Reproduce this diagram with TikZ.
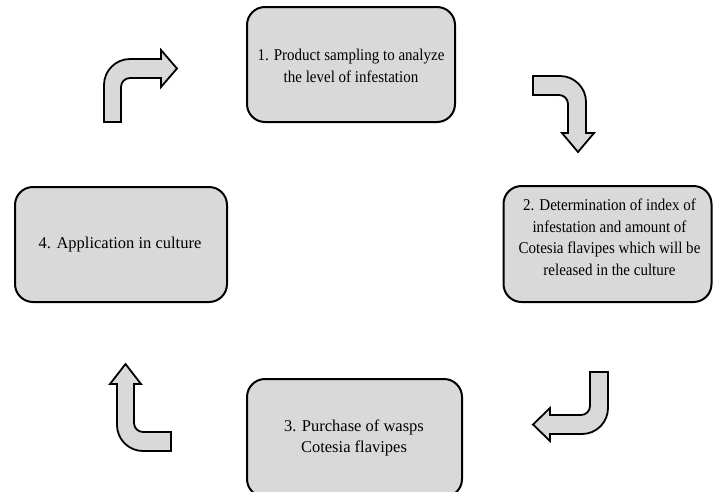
\documentclass[tikz,border=0pt]{standalone}
\usepackage{fontspec}
\setmainfont{Liberation Serif}
\newfontfamily\condfont[FakeStretch=0.91]{Liberation Serif}
\definecolor{boxgray}{HTML}{D9D9D9}
\tikzset{
  stepbox/.style={draw=black, fill=boxgray, line width=2pt, rounded corners=18pt, inner sep=0pt},
  steptext/.style={align=center, inner sep=0pt, font=\fontsize{16.5}{21.5}\selectfont},
  bentarrow/.style={draw=black, fill=boxgray, line width=1.8pt, line join=miter}
}
\begin{document}
\begin{tikzpicture}[x=1pt,y=-1pt]
\useasboundingbox (0,0) rectangle (714,491);
\clip (0,0) rectangle (714,491);
% boxes
\node[stepbox, minimum width=208pt, minimum height=115pt] (b1) at (351,64.5) {};
\node[stepbox, minimum width=208pt, minimum height=116pt] (b2) at (607.5,244) {};
\node[stepbox, minimum width=212pt, minimum height=115pt] (b4) at (121,244.5) {};
\node[stepbox, minimum width=215pt, minimum height=118pt] (b3) at (354.5,438) {};
% texts
\node[steptext] (t1) at (351,66) {\condfont 1. Product sampling to analyze\\\condfont the level of infestation};
\node[steptext] (t2) at (609.5,237.5) {\condfont 2. Determination of index of\\\condfont infestation and amount of\\\condfont Cotesia flavipes which will be\\\condfont released in the culture};
\node[steptext] (t4) at (120,245) {4. Application in culture};
\node[steptext] (t3) at (354,438) {3. Purchase of wasps\\Cotesia flavipes};
% bent arrows
% A: 4 -> 1
\draw[bentarrow] (104,122) -- (104,85) .. controls (104,70.64) and (115.64,59) .. (130,59)
  -- (161,59) -- (161,50) -- (177,68.5) -- (161,87) -- (161,78) -- (130,78)
  .. controls (125.03,78) and (121,82.03) .. (121,87) -- (121,122) -- cycle;
% B: 1 -> 2
\draw[bentarrow] (533,76) -- (560,76) .. controls (574.36,76) and (586,87.64) .. (586,102)
  -- (586,133) -- (594,133) -- (578,152) -- (562,133) -- (568,133) -- (568,104)
  .. controls (568,99.03) and (563.97,95) .. (559,95) -- (533,95) -- cycle;
% C: 2 -> 3
\draw[bentarrow] (590,372) -- (608,372) -- (608,408) .. controls (608,422.36) and (596.36,434) .. (582,434)
  -- (550,434) -- (550,441) -- (533,424.5) -- (550,408) -- (550,415) -- (581,415)
  .. controls (585.97,415) and (590,410.97) .. (590,406) -- cycle;
% D: 3 -> 4
\draw[bentarrow] (125.5,364) -- (141,384) -- (134,384) -- (134,423)
  .. controls (134,427.97) and (138.03,432) .. (143,432) -- (171,432) -- (171,451) -- (143,451)
  .. controls (128.64,451) and (117,439.36) .. (117,425) -- (117,384) -- (110,384) -- cycle;
\end{tikzpicture}
\end{document}
